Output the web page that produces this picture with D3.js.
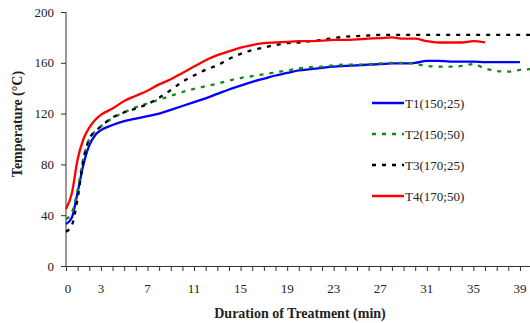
<!DOCTYPE html>
<html>
<head>
<meta charset="utf-8">
<script src="https://cdn.jsdelivr.net/npm/d3@7"></script>
<style>
  body { margin: 0; background: #fff; }
  text { font-family: "Liberation Serif", "Times New Roman", serif; fill: #222; }
</style>
</head>
<body>
<svg id="chart"></svg>
<script>
// minutes
let time = [0, 0.5, 1, 1.5, 2, 2.5, 3, 4, 5, 6, 7, 8, 9, 10, 11, 12, 13, 14, 15, 16, 17, 18, 19, 20,
  21, 22, 23, 24, 25, 26, 27, 28, 29, 30, 31, 32, 33, 34, 35, 36, 37, 38, 39, 40];

let t1 = [33, 38, 58, 80, 95, 103, 107, 111, 114, 116, 118, 120, 123, 126, 129, 132, 135.5, 139, 142, 145,
  147.5, 150, 152, 154, 155, 156, 157, 157.5, 158, 158.5, 159, 159.5, 159.6, 160, 161.5, 161.5, 161, 161,
  161, 160.5, 160.5, 160.5, 160.5, null];
let t2 = [37, 42, 60, 85, 100, 106, 110, 116.5, 121, 125, 128, 131, 134, 137, 139.5, 141.5, 143.5, 146, 148,
  149.5, 151, 152.5, 154, 155.5, 156.5, 157, 158, 158.5, 158.5, 159, 159.5, 160, 160, 159, 157.5, 157, 157,
  157.5, 159, 155.5, 153.5, 153, 154.5, 155];
let t3 = [27, 32, 53, 84, 100, 106, 110, 117, 121, 124, 127.5, 132.5, 138.5, 145, 150, 154.5, 158, 163, 167,
  170, 172, 174, 175.5, 176, 177, 178, 179.5, 180.5, 181, 181.5, 182, 182, 182, 182, 182, 182, 182, 182,
  182, 182, 182, 182, 182, 182];
let t4 = [45, 57, 84, 100, 109, 115, 119, 124, 130, 134, 138, 143, 147, 152, 157, 162, 166, 169, 172, 174,
  175.5, 176, 176.5, 177, 177, 177.5, 178, 178, 178.5, 179, 179.5, 180, 179, 179, 177, 176, 176, 176, 177,
  176, null, null, null, null];

let seriesNames = ['T1(150;25)', 'T2(150;50)', 'T3(170;25)', 'T4(170;50)'];
let xTickLabels = [0, 3, 7, 11, 15, 19, 23, 27, 31, 35, 39];
let yTickLabels = [0, 40, 80, 120, 160, 200];

let series = [
  { name: seriesNames[0], values: t1, color: '#0000ff', dash: null },
  { name: seriesNames[1], values: t2, color: '#128a12', dash: '4,6' },
  { name: seriesNames[2], values: t3, color: '#000000', dash: '4,6' },
  { name: seriesNames[3], values: t4, color: '#ff0000', dash: null }
];

let width = 530;
let height = 323;

let svg = d3.select('#chart').attr('width', width).attr('height', height);

let xScale = d3.scaleLinear().domain([0, 40]).range([66, 531.6]);
let yScale = d3.scaleLinear().domain([0, 200]).range([266, 12]);

// axes
let xAxis = svg.append('g')
  .attr('transform', `translate(0, ${yScale(0)})`)
  .call(d3.axisBottom(xScale).tickValues(d3.range(0, 41)).tickSize(5).tickFormat(''));
xAxis.select('.domain').attr('stroke', '#333');
xAxis.selectAll('.tick line').attr('stroke', '#333');

svg.append('g').selectAll('text')
  .data(xTickLabels)
  .enter()
  .append('text')
  .attr('x', d => xScale(d) + (d === 0 ? 2 : 0))
  .attr('y', 293)
  .attr('text-anchor', 'middle')
  .style('font-size', '13px')
  .text(d => d);

let yAxis = svg.append('g')
  .attr('transform', `translate(${xScale(0)}, 0)`)
  .call(d3.axisLeft(yScale).tickValues(yTickLabels).tickSize(5).tickPadding(7));
yAxis.select('.domain').attr('stroke', '#333').attr('d', `M0,${yScale(0)}V${yScale(200)}`);
yAxis.selectAll('.tick line').attr('stroke', '#333');
yAxis.selectAll('.tick text')
  .style('font-size', '13px')
  .style('font-family', '"Liberation Serif", serif')
  .attr('fill', '#222');

// axis titles
svg.append('text')
  .attr('x', 300)
  .attr('y', 318)
  .attr('text-anchor', 'middle')
  .style('font-size', '14px')
  .style('font-weight', 'bold')
  .text('Duration of Treatment (min)');

svg.append('text')
  .attr('transform', 'translate(22, 124) rotate(-90)')
  .attr('text-anchor', 'middle')
  .style('font-size', '14px')
  .style('font-weight', 'bold')
  .text('Temperature (°C)');

// lines
let line = d3.line()
  .defined(d => d[1] !== null)
  .x(d => xScale(d[0]))
  .y(d => yScale(d[1]))
  .curve(d3.curveMonotoneX);

series.forEach(s => {
  svg.append('path')
    .datum(time.map((t, i) => [t, s.values[i]]))
    .attr('d', line)
    .style('fill', 'none')
    .style('stroke', s.color)
    .style('stroke-width', 2.3)
    .style('stroke-dasharray', s.dash);
});

// legend
let legend = svg.append('g')
  .selectAll('g')
  .data(series)
  .enter()
  .append('g')
  .attr('transform', (d, i) => `translate(372, ${103 + i * 31})`);

legend.append('line')
  .attr('x1', 0).attr('x2', 32)
  .attr('y1', 0).attr('y2', 0)
  .style('stroke', d => d.color)
  .style('stroke-width', 2.5)
  .style('stroke-dasharray', d => d.dash);

legend.append('text')
  .attr('x', 33)
  .attr('y', 5)
  .style('font-size', '13px')
  .text(d => d.name);
</script>
</body>
</html>
